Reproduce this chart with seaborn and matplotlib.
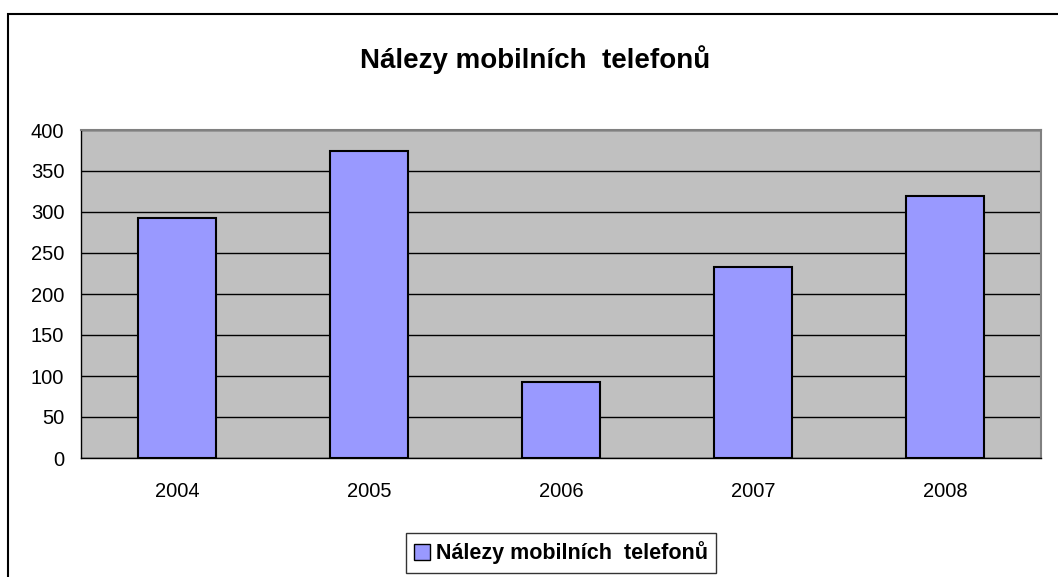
import numpy as np
import pandas as pd
import seaborn as sns
import matplotlib
matplotlib.use("Agg")
import matplotlib.pyplot as plt
from matplotlib.patches import Rectangle, Patch

roky = ["2004", "2005", "2006", "2007", "2008"]
nalezy = [293, 374, 93, 233, 320]
nazev = "Nálezy mobilních  telefonů"

df = pd.DataFrame({"rok": roky, "nalezy": nalezy})

sns.set_style("white")
plt.rcParams['font.family'] = ['Liberation Sans', 'DejaVu Sans']
plt.rcParams['text.color'] = 'black'
plt.rcParams['xtick.color'] = 'black'
plt.rcParams['ytick.color'] = 'black'

fig = plt.figure(figsize=(10.58, 5.77), dpi=100)
ax = fig.add_axes([81/1058, 1-458/577, (1041-81)/1058, (458-130)/577])
ax.set_facecolor('#C0C0C0')

sns.barplot(data=df, x="rok", y="nalezy", color='#9999FF', edgecolor='black',
            linewidth=1.5, width=0.405, saturation=1, ax=ax, zorder=3)

ax.set_ylim(0, 400)
ax.set_xlim(-0.5, 4.5)
ax.set_yticks(np.arange(0, 401, 50))
ax.yaxis.grid(True, color='black', linewidth=1)
ax.set_axisbelow(True)
ax.set_xlabel("")
ax.set_ylabel("")

# x ticks at category boundaries, labels centred
ax.set_xticks(np.arange(-0.5, 5, 1))
ax.set_xticklabels([])
ax.set_xticks(range(len(roky)), minor=True)
ax.set_xticklabels(roky, minor=True)
ax.tick_params(axis='x', which='major', direction='out', length=7, width=1, color='black')
ax.tick_params(axis='x', which='minor', length=0, pad=17, labelsize=14.5)
ax.tick_params(axis='y', direction='out', length=5, width=1, color='black', labelsize=14.5, pad=7)

for s in ['top', 'right']:
    ax.spines[s].set_color('#808080')
    ax.spines[s].set_linewidth(1.5)
for s in ['left', 'bottom']:
    ax.spines[s].set_color('black')
    ax.spines[s].set_linewidth(1)

fig.text(535/1058, 1-60/577, nazev, ha='center', va='center', fontsize=20, fontweight='bold')

# outer chart frame (cut off at right and bottom)
fig.patches.append(Rectangle((8/1058, -0.1), 1.2, 1-14/577+0.1, transform=fig.transFigure,
                             fill=False, edgecolor='black', linewidth=1.5, clip_on=False))

leg = fig.legend(handles=[Patch(facecolor='#9999FF', edgecolor='black', label=nazev)],
                 loc='center', bbox_to_anchor=(561/1058, 1-553/577), frameon=True,
                 fancybox=False, edgecolor='black', prop={'weight': 'bold', 'size': 15.5},
                 handlelength=0.75, handleheight=0.75, handletextpad=0.25, borderpad=0.4)
leg.get_frame().set_linewidth(1)

fig.savefig("out.png", dpi=100)
